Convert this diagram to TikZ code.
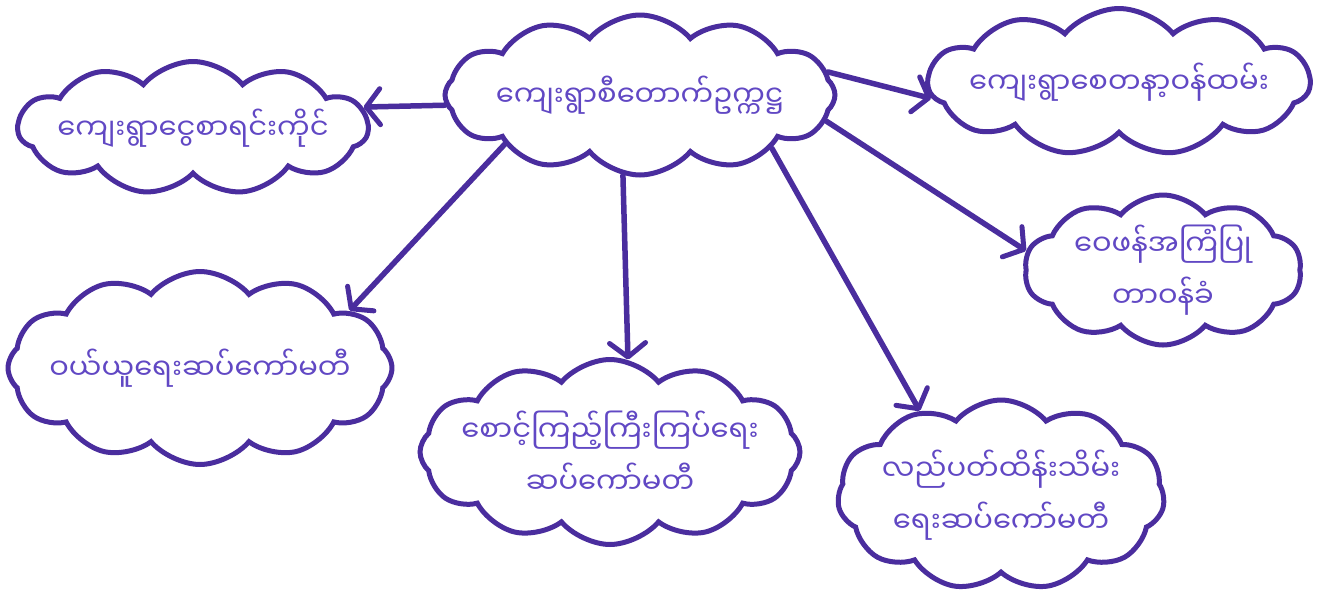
\documentclass[tikz,border=0pt]{standalone}
\usepackage{fontspec}
\newfontfamily\mya[Script=Myanmar]{Noto Sans Myanmar UI}
\usetikzlibrary{shapes.symbols,arrows.meta}
\definecolor{ink}{HTML}{4A2D9E}
\definecolor{txt}{HTML}{6148C4}
\tikzset{
  bubble/.style={cloud, cloud ignores aspect, draw=ink, line width=5pt, fill=white, cloud puffs=#1, cloud puff arc=100,
    text=txt, font=\mya\fontsize{29}{52}\selectfont, align=center, inner xsep=-30pt, inner ysep=-8pt},
  link/.style={draw=ink, line width=5.5pt, line cap=round,
    -{Straight Barb[length=14pt,width=36pt,line width=5pt,round]}}
}
\begin{document}
\begin{tikzpicture}[x=1pt,y=-1pt]
\fill[white] (0,0) rectangle (1319,595);
\useasboundingbox (0,0) rectangle (1319,595);
\node[bubble=12, minimum width=390pt, minimum height=160pt] (c) at (640,95) {ကျေးရွာစီတောက်ဥက္ကဋ္ဌ};
\node[bubble=11, minimum width=350pt, minimum height=133pt] (lt) at (193,128) {ကျေးရွာငွေစာရင်းကိုင်};
\node[bubble=11, minimum width=382pt, minimum height=147pt] (rt) at (1119,82) {ကျေးရွာစေတနာ့ဝန်ထမ်း};
\node[bubble=10, minimum width=277pt, minimum height=150pt] (rm) at (1163,270) {ဝေဖန်အကြံပြု\\တာဝန်ခံ};
\node[bubble=12, minimum width=384pt, minimum height=193pt] (lb) at (200,368) {ဝယ်ယူရေးဆပ်ကော်မတီ};
\node[bubble=12, minimum width=380pt, minimum height=185pt] (mb) at (610,452) {စောင့်ကြည့်ကြီးကြပ်ရေး\\ဆပ်ကော်မတီ};
\node[bubble=11, minimum width=327pt, minimum height=190pt] (rb) at (1001,495) {လည်ပတ်ထိန်းသိမ်း\\ရေးဆပ်ကော်မတီ};
\draw[link] (c.183) -- (lt.7);
\draw[link] (c.7) -- (rt.185);
\draw[link] (c.200) -- (lb.21);
\draw[link] (c.258) -- (mb.79);
\draw[link] (c.352) -- (rm.172);
\draw[link] (c.338) -- (rb.134);
\end{tikzpicture}
\end{document}
